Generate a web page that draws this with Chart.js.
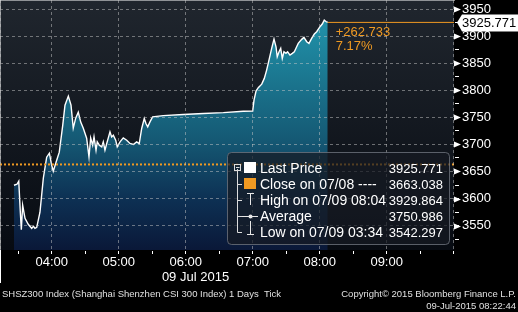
<!DOCTYPE html>
<html>
<head>
<meta charset="utf-8">
<script src="https://cdn.jsdelivr.net/npm/chart.js@4"></script>
<style>
html, body { margin: 0; padding: 0; background: #000; }
canvas { display: block; }
</style>
</head>
<body>
<canvas id="priceChart" width="518" height="312"></canvas>
<script>
// tick times, minutes after midnight on 09 Jul 2015
const tickTimes = [206.2, 208.9, 210.5, 211.9, 212.8, 214.0, 216.1, 219.0, 222.1, 223.7, 225.0, 226.6, 229.5, 232.5, 235.5, 237.9,
    240.0, 241.4, 243.9, 246.8, 249.9, 251.9, 254.9, 257.3, 259.3, 261.5, 263.8, 266.0, 268.3, 271.3, 273.4, 274.9, 276.7, 277.9,
    279.7, 280.8, 282.6, 284.8, 286.2, 287.7, 289.3, 292.2, 293.7, 295.2, 297.3, 298.7, 301.2, 304.1, 307.2, 310.1, 313.1, 316.1,
    318.4, 320.6, 322.9, 324.4, 326.0, 328.0, 330.4, 339.9, 357.8, 375.8, 393.7, 411.6, 420.0, 421.2, 423.0, 425.0, 428.1, 430.4,
    432.5, 434.6, 437.0, 439.1, 440.9, 442.0, 443.6, 445.1, 446.5, 448.0, 449.8, 451.3, 453.4, 455.5, 457.3, 459.4, 460.8, 463.9,
    465.9, 468.4, 470.4, 472.8, 475.2, 477.3, 480.3, 482.3, 484.1, 485.6, 487.2];
const lastPrice = [3624.6, 3626.4, 3632.0, 3574.6, 3542.3, 3587.5, 3563.5, 3552.4, 3544.9, 3548.6, 3544.9, 3546.8, 3574.6, 3637.5, 3676.4, 3683.8,
    3661.6, 3650.5, 3667.2, 3685.7, 3735.7, 3772.7, 3789.4, 3772.7, 3730.1, 3748.7, 3759.8, 3741.3, 3730.1, 3711.6, 3677.0, 3712.2, 3698.7, 3714.0,
    3689.4, 3704.8, 3698.7, 3695.5, 3704.8, 3689.4, 3701.8, 3723.3, 3714.0, 3717.2, 3707.9, 3695.5, 3704.8, 3712.2, 3707.9, 3701.8, 3700.0, 3704.8,
    3701.8, 3729.6, 3748.1, 3738.8, 3732.6, 3741.8, 3751.1, 3753.3, 3755.5, 3757.4, 3758.8, 3761.3, 3761.6, 3782.0, 3798.7, 3805.1, 3811.6, 3822.2,
    3837.6, 3856.1, 3877.7, 3895.0, 3880.7, 3862.2, 3871.5, 3877.7, 3859.2, 3871.5, 3868.5, 3871.5, 3865.3, 3868.5, 3871.5, 3880.7, 3887.0, 3894.4,
    3898.1, 3890.0, 3887.0, 3896.3, 3904.2, 3908.5, 3917.8, 3922.8, 3929.9, 3927.4, 3925.771];
const prevClose = 3663.038;
const legendLabels = ['Last Price', 'Close on 07/08 ----', 'High on 07/09 08:04', 'Average', 'Low on 07/09 03:34'];
const legendValues = [3925.771, 3663.038, 3929.864, 3750.986, 3542.297];
const xRange = [193.7, 600.3];
const yRange = [3504.8, 3967.2];

const ORANGE = '#f09a22';
const GRID = 'rgba(200, 200, 200, 0.5)';
const FONT = '"Liberation Sans", Arial, sans-serif';

const lastT = tickTimes[tickTimes.length - 1];
const lastV = lastPrice[lastPrice.length - 1];

function hhmm(m) {
    const h = Math.floor(m / 60);
    return String(h).padStart(2, '0') + ':' + String(Math.round(m - h * 60)).padStart(2, '0');
}

const overlay = {
    id: 'overlay',
    beforeDraw(chart) {
        const {ctx, chartArea: a} = chart;
        ctx.save();
        ctx.fillStyle = '#000';
        ctx.fillRect(0, 0, chart.width, chart.height);
        const g = ctx.createLinearGradient(0, a.top, 0, a.bottom);
        g.addColorStop(0, '#20262e');
        g.addColorStop(1, '#070b12');
        ctx.fillStyle = g;
        ctx.fillRect(a.left, a.top, a.right - a.left, a.bottom - a.top);
        ctx.restore();
    },
    afterDraw(chart) {
        const {ctx, chartArea: a, scales: {y}} = chart;
        ctx.save();
        // left edge dashed line and date separator
        ctx.strokeStyle = GRID;
        ctx.setLineDash([3, 3]);
        ctx.beginPath(); ctx.moveTo(a.left + 0.5, a.top); ctx.lineTo(a.left + 0.5, a.bottom); ctx.stroke();
        ctx.setLineDash([]);
        ctx.strokeStyle = '#fff';
        ctx.beginPath(); ctx.moveTo(0.5, a.bottom); ctx.lineTo(0.5, a.bottom + 33); ctx.stroke();

        // arrow markers on major y ticks
        ctx.fillStyle = '#fff';
        y.ticks.forEach(t => {
            if (t.value % 50 !== 0) return;
            const py = Math.round(y.getPixelForValue(t.value)) + 0.5;
            ctx.beginPath();
            ctx.moveTo(a.right, py - 3); ctx.lineTo(a.right + 7, py); ctx.lineTo(a.right, py + 3);
            ctx.closePath(); ctx.fill();
        });

        // last price tag
        const ly = y.getPixelForValue(lastV);
        ctx.fillStyle = '#fff';
        ctx.beginPath();
        ctx.moveTo(a.right + 3, ly); ctx.lineTo(a.right + 8, ly - 8); ctx.lineTo(518, ly - 8);
        ctx.lineTo(518, ly + 9); ctx.lineTo(a.right + 8, ly + 9); ctx.closePath(); ctx.fill();
        ctx.fillStyle = '#000';
        ctx.font = '13px ' + FONT;
        ctx.textBaseline = 'middle';
        ctx.textAlign = 'left';
        ctx.fillText(lastV.toFixed(3), a.right + 8, ly + 1);

        // change since close
        const chg = lastV - prevClose;
        const lx = chart.scales.x.getPixelForValue(lastT) + 8;
        ctx.fillStyle = ORANGE;
        ctx.fillText('+' + chg.toFixed(3), lx, ly + 10);
        ctx.fillText((chg / prevClose * 100).toFixed(2) + '%', lx, ly + 24);

        // date under the hours
        ctx.fillStyle = '#fff';
        ctx.textAlign = 'center';
        ctx.fillText('09 Jul 2015', 195.5, 277);

        // footer
        ctx.font = '9.5px ' + FONT;
        ctx.fillStyle = '#e0e0e0';
        ctx.textAlign = 'left';
        ctx.fillText('SHSZ300 Index (Shanghai Shenzhen CSI 300 Index) 1 Days  Tick', 2, 294);
        ctx.textAlign = 'right';
        ctx.fillText('Copyright\u00A9 2015 Bloomberg Finance L.P.', 516, 294);
        ctx.fillText('09-Jul-2015 08:22:44', 516, 306);

        // legend
        ctx.fillStyle = 'rgba(22, 27, 35, 0.72)';
        ctx.strokeStyle = 'rgba(110, 115, 125, 0.8)';
        ctx.lineWidth = 1;
        ctx.beginPath();
        ctx.roundRect(227.5, 152.5, 222, 92, 4);
        ctx.fill(); ctx.stroke();

        const rows = [168, 184, 200, 216, 232];
        ctx.strokeStyle = '#ddd';
        ctx.beginPath();
        ctx.moveTo(237.5, 169); ctx.lineTo(237.5, rows[4] + 0.5);
        rows.slice(1).forEach(r => { ctx.moveTo(237.5, r + 0.5); ctx.lineTo(242, r + 0.5); });
        ctx.stroke();
        ctx.strokeRect(234.5, 164.5, 6, 6);
        ctx.beginPath(); ctx.moveTo(236, 167.5); ctx.lineTo(239.5, 167.5); ctx.stroke();

        ctx.fillStyle = '#fff';
        ctx.fillRect(244, 162, 12, 11);
        ctx.fillStyle = ORANGE;
        ctx.fillRect(244, 178, 12, 11);
        ctx.strokeStyle = '#e8e8e8';
        ctx.beginPath();
        ctx.moveTo(247, 193.5); ctx.lineTo(254, 193.5);
        ctx.moveTo(250.5, 193.5); ctx.lineTo(250.5, 205);
        ctx.moveTo(242, 216.5); ctx.lineTo(258, 216.5);
        ctx.moveTo(250.5, 221); ctx.lineTo(250.5, 234.5);
        ctx.moveTo(247, 234.5); ctx.lineTo(254, 234.5);
        ctx.stroke();
        ctx.beginPath(); ctx.arc(250.5, 216.5, 2, 0, Math.PI * 2); ctx.fillStyle = '#e8e8e8'; ctx.fill();

        ctx.fillStyle = '#fff';
        ctx.font = '14px ' + FONT;
        ctx.textAlign = 'left';
        legendLabels.forEach((t, i) => ctx.fillText(t, 260, rows[i] + 1));
        ctx.font = '13px ' + FONT;
        ctx.textAlign = 'right';
        legendValues.forEach((v, i) => ctx.fillText(v.toFixed(3), 443, rows[i] + 1));
        ctx.restore();
    }
};

const ctx = document.getElementById('priceChart').getContext('2d');
const priceChart = new Chart(ctx, {
    type: 'line',
    data: {
        datasets: [{
            label: 'Last Price',
            data: tickTimes.map((t, i) => ({x: t, y: lastPrice[i]})),
            order: 2,
            borderColor: '#ffffff',
            borderWidth: 1.4,
            pointRadius: 0,
            tension: 0,
            fill: 'start',
            backgroundColor: (c) => {
                const a = c.chart.chartArea;
                if (!a) return 'rgba(0,0,0,0)';
                const g = c.chart.ctx.createLinearGradient(0, a.top, 0, a.bottom);
                g.addColorStop(0, '#279ab3');
                g.addColorStop(0.15, '#1f8aa2');
                g.addColorStop(0.55, '#155a75');
                g.addColorStop(0.8, '#0d3053');
                g.addColorStop(1, '#0a1838');
                return g;
            }
        },
        {
            label: 'Close',
            data: [{x: xRange[0], y: prevClose}, {x: xRange[1], y: prevClose}],
            order: 1,
            borderColor: ORANGE,
            borderWidth: 2,
            borderDash: [2, 2],
            pointRadius: 0,
            fill: false
        },
        {
            label: 'Last',
            data: [{x: lastT, y: lastV}, {x: xRange[1], y: lastV}],
            order: 1,
            borderColor: ORANGE,
            borderWidth: 1,
            pointRadius: 0,
            fill: false
        }]
    },
    options: {
        responsive: false,
        animation: false,
        layout: { padding: 0 },
        plugins: { legend: { display: false }, tooltip: { enabled: false } },
        scales: {
            x: {
                type: 'linear',
                min: xRange[0],
                max: xRange[1],
                afterFit: (s) => { s.height = 62; s.paddingLeft = 0; s.paddingRight = 0; },
                ticks: {
                    stepSize: 30,
                    includeBounds: false,
                    autoSkip: false,
                    maxRotation: 0,
                    padding: 1,
                    color: '#ffffff',
                    font: { family: FONT, size: 13 },
                    callback: (v) => (v % 60 === 0 && v < 590) ? hhmm(v) : ''
                },
                grid: {
                    z: 1,
                    color: (c) => (c.tick && c.tick.value % 60 === 0) ? GRID : 'rgba(0,0,0,0)',
                    tickColor: '#ffffff',
                    tickLength: 4
                },
                border: { color: '#ffffff', width: 1, dash: [3, 3] }
            },
            y: {
                position: 'right',
                min: yRange[0],
                max: yRange[1],
                afterFit: (s) => { s.width = 64; s.paddingTop = 0; s.paddingBottom = 0; },
                ticks: {
                    stepSize: 25,
                    includeBounds: false,
                    autoSkip: false,
                    padding: 3,
                    color: '#ffffff',
                    font: { family: FONT, size: 13 },
                    callback: (v) => v % 50 === 0 ? String(v) : ''
                },
                grid: {
                    z: 1,
                    color: (c) => (c.tick && c.tick.value % 50 === 0) ? GRID : 'rgba(0,0,0,0)',
                    tickColor: '#ffffff',
                    tickLength: 5
                },
                border: { color: '#ffffff', width: 1, dash: [3, 3] }
            }
        }
    },
    plugins: [overlay]
});
</script>
</body>
</html>
